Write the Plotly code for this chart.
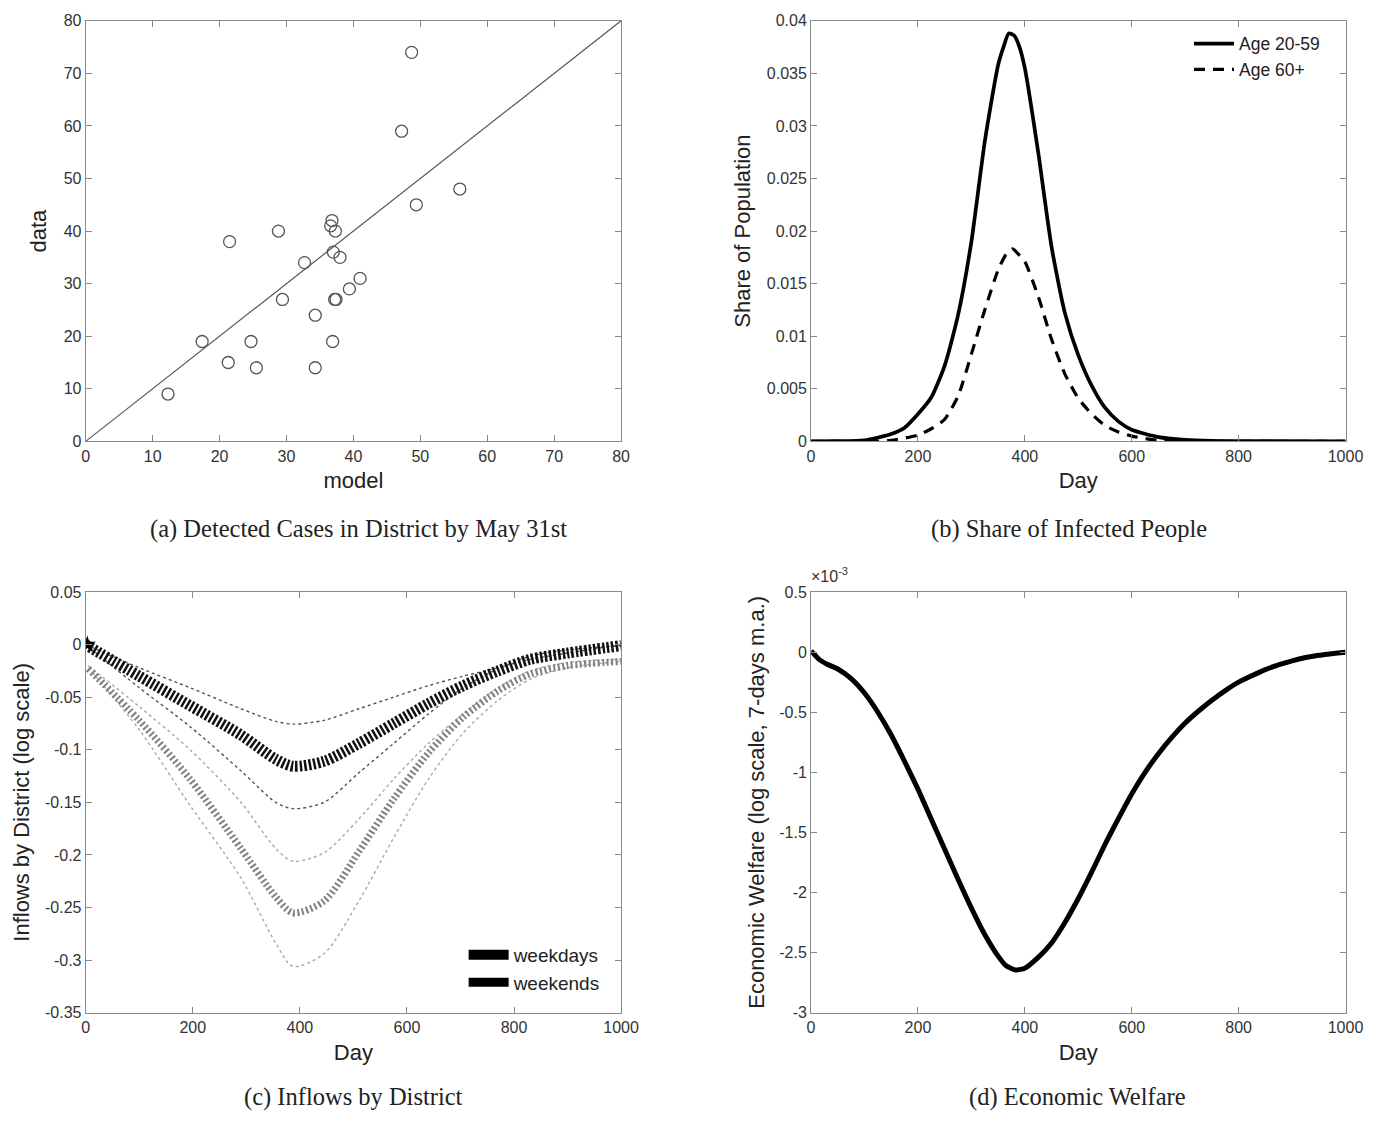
import plotly.graph_objects as go

# ---------------- Panel (a): detected cases ----------------
model_vals = [48.7, 47.2, 55.9, 49.4, 36.8, 36.6, 37.3, 28.8, 21.5, 37.0, 38.0, 32.7,
              41.0, 39.4, 37.2, 37.4, 29.4, 34.3, 17.4, 24.7, 36.9, 21.3, 25.5, 34.3, 12.3]
data_vals = [74, 59, 48, 45, 42, 41, 40, 40, 38, 36, 35, 34,
             31, 29, 27, 27, 27, 24, 19, 19, 19, 15, 14, 14, 9]
diag_x = [0, 80]
diag_y = [0, 80]

# ---------------- Panel (b): share of infected ----------------
days_b = [0, 50, 100, 150, 175, 200, 225, 250, 275, 300, 325, 350, 360, 370, 380, 390,
          400, 425, 450, 475, 500, 525, 550, 575, 600, 650, 700, 750, 800, 1000]
age_20_59 = [0.0, 0.00002, 0.0001, 0.0007, 0.0013, 0.0026, 0.0042, 0.0072, 0.0120, 0.0190,
             0.0285, 0.0358, 0.0375, 0.0388, 0.0386, 0.0375, 0.0355, 0.0275, 0.0185, 0.0122,
             0.0082, 0.0053, 0.0032, 0.0019, 0.0011, 0.0004, 0.00015, 0.00005, 0.00002, 0.0]
days_b2 = [0, 100, 150, 200, 225, 250, 275, 300, 325, 350, 365, 377, 390, 400, 425, 450,
           475, 500, 525, 550, 575, 600, 650, 700, 1000]
age_60_plus = [0.0, 0.0, 0.0001, 0.0006, 0.0012, 0.0021, 0.0043, 0.0083, 0.0125, 0.0163,
               0.0178, 0.0183, 0.0177, 0.0171, 0.0138, 0.0097, 0.0064, 0.0041, 0.0026,
               0.0015, 0.0009, 0.0005, 0.0001, 0.00003, 0.0]

# ---------------- Panel (c): inflows by district ----------------
days_c = [0, 100, 195, 290, 355, 387, 445, 510, 575, 640, 705, 770, 830, 900, 1000]
days_c2 = [5, 100, 195, 290, 355, 387, 445, 510, 575, 640, 705, 770, 830, 900, 1000]
inflow_1 = [0.0, -0.022, -0.041, -0.061, -0.073, -0.0756, -0.072, -0.061, -0.050, -0.039,
            -0.030, -0.022, -0.014, -0.008, 0.0]
inflow_2 = [0.0, -0.030, -0.058, -0.086, -0.109, -0.1156, -0.111, -0.094, -0.075, -0.056,
            -0.039, -0.025, -0.014, -0.008, -0.001]
inflow_3 = [0.0, -0.041, -0.078, -0.120, -0.150, -0.156, -0.150, -0.122, -0.094, -0.066,
            -0.041, -0.023, -0.011, -0.005, -0.001]
inflow_4 = [-0.020, -0.059, -0.100, -0.150, -0.194, -0.206, -0.198, -0.166, -0.128, -0.094,
            -0.066, -0.041, -0.025, -0.017, -0.014]
inflow_5 = [-0.023, -0.072, -0.128, -0.194, -0.240, -0.255, -0.244, -0.197, -0.147, -0.103,
            -0.069, -0.044, -0.028, -0.020, -0.016]
inflow_6 = [-0.022, -0.081, -0.153, -0.222, -0.284, -0.306, -0.294, -0.244, -0.184, -0.128,
            -0.084, -0.053, -0.033, -0.022, -0.016]
start_x = [3]
start_y = [0.0]

# ---------------- Panel (d): economic welfare (x 1e-3) ----------------
days_d = [0, 15, 30, 50, 75, 100, 125, 150, 175, 200, 225, 250, 275, 300, 325, 350, 365, 383,
          400, 425, 450, 475, 500, 525, 550, 575, 600, 625, 650, 675, 700, 725, 750, 775, 800,
          850, 900, 950, 1000]
welfare_e3 = [0.01, -0.06, -0.10, -0.14, -0.22, -0.34, -0.50, -0.69, -0.91, -1.14, -1.39, -1.64,
              -1.89, -2.13, -2.35, -2.53, -2.61, -2.645, -2.63, -2.54, -2.42, -2.25, -2.05, -1.83,
              -1.60, -1.385, -1.18, -1.00, -0.845, -0.71, -0.59, -0.49, -0.40, -0.32, -0.25,
              -0.145, -0.072, -0.026, 0.0]

# tick labels
ticks_a = [0, 10, 20, 30, 40, 50, 60, 70, 80]
ticks_day = [0, 200, 400, 600, 800, 1000]
ticks_b = [0, 0.005, 0.01, 0.015, 0.02, 0.025, 0.03, 0.035, 0.04]
ticklabels_b = ["0", "0.005", "0.01", "0.015", "0.02", "0.025", "0.03", "0.035", "0.04"]
ticks_c = [0.05, 0, -0.05, -0.1, -0.15, -0.2, -0.25, -0.3, -0.35]
ticklabels_c = ["0.05", "0", "-0.05", "-0.1", "-0.15", "-0.2", "-0.25", "-0.3", "-0.35"]
ticks_d = [0.5, 0, -0.5, -1, -1.5, -2, -2.5, -3]
ticklabels_d = ["0.5", "0", "-0.5", "-1", "-1.5", "-2", "-2.5", "-3"]

captions = ["(a) Detected Cases in District by May 31st", "(b) Share of Infected People",
            "(c) Inflows by District", "(d) Economic Welfare"]

W, H = 1395, 1128

fig = go.Figure()

# (a)
fig.add_trace(go.Scatter(x=diag_x, y=diag_y, mode="lines", line=dict(color="#555555", width=1.2),
                         xaxis="x", yaxis="y", showlegend=False))
fig.add_trace(go.Scatter(x=model_vals, y=data_vals, mode="markers",
                         marker=dict(symbol="circle-open", size=12, color="#555555", line=dict(width=1.3)),
                         xaxis="x", yaxis="y", showlegend=False))
# (b)
fig.add_trace(go.Scatter(x=days_b, y=age_20_59, mode="lines", name="Age 20-59",
                         line=dict(color="black", width=3.7, shape="spline", smoothing=0.6),
                         xaxis="x2", yaxis="y2", legend="legend"))
fig.add_trace(go.Scatter(x=days_b2, y=age_60_plus, mode="lines", name="Age 60+",
                         line=dict(color="black", width=3.2, dash="11px,8px", shape="spline", smoothing=0.6),
                         xaxis="x2", yaxis="y2", legend="legend"))
# (c)
fig.add_trace(go.Scatter(x=days_c2, y=inflow_6, mode="lines", line=dict(color="#a8a8a8", width=1.4, dash="dot", shape="spline", smoothing=0.8),
                         xaxis="x3", yaxis="y3", showlegend=False))
fig.add_trace(go.Scatter(x=days_c2, y=inflow_4, mode="lines", line=dict(color="#a8a8a8", width=1.4, dash="dot", shape="spline", smoothing=0.8),
                         xaxis="x3", yaxis="y3", showlegend=False))
fig.add_trace(go.Scatter(x=days_c2, y=inflow_5, mode="lines", line=dict(color="#808080", width=7, dash="2px,2.5px", shape="spline", smoothing=0.8),
                         xaxis="x3", yaxis="y3", showlegend=False))
fig.add_trace(go.Scatter(x=days_c, y=inflow_1, mode="lines", line=dict(color="#555555", width=1.4, dash="dot", shape="spline", smoothing=0.8),
                         xaxis="x3", yaxis="y3", showlegend=False))
fig.add_trace(go.Scatter(x=days_c, y=inflow_3, mode="lines", line=dict(color="#555555", width=1.4, dash="dot", shape="spline", smoothing=0.8),
                         xaxis="x3", yaxis="y3", showlegend=False))
fig.add_trace(go.Scatter(x=days_c, y=inflow_2, mode="lines", line=dict(color="#111111", width=11, dash="2.5px,2px", shape="spline", smoothing=0.8),
                         xaxis="x3", yaxis="y3", showlegend=False))
fig.add_trace(go.Scatter(x=start_x, y=start_y, mode="markers", marker=dict(symbol="star", size=13, color="black"),
                         xaxis="x3", yaxis="y3", showlegend=False))
fig.add_trace(go.Scatter(x=[None], y=[None], mode="lines", name="weekdays",
                         line=dict(color="black", width=14), xaxis="x3", yaxis="y3", legend="legend2"))
fig.add_trace(go.Scatter(x=[None], y=[None], mode="lines", name="weekends",
                         line=dict(color="black", width=9), xaxis="x3", yaxis="y3", legend="legend2"))
# (d)
fig.add_trace(go.Scatter(x=days_d, y=welfare_e3, mode="lines",
                         line=dict(color="black", width=5, shape="spline", smoothing=0.5),
                         xaxis="x4", yaxis="y4", showlegend=False))

def px_x(a, b):
    return [a / W, b / W]

def px_y(top, bottom):
    return [1 - bottom / H, 1 - top / H]

tickfont = dict(family="Liberation Sans, Arial, sans-serif", size=16, color="#333333")
titlefont = dict(family="Liberation Sans, Arial, sans-serif", size=22, color="#222222")

def ax(domain, rng, tickvals, ticktext=None, title=None, anchor=None, standoff=8):
    d = dict(domain=domain, range=rng, showline=True, linecolor="#8a8a8a", linewidth=1,
             mirror="ticks", ticks="inside", ticklen=6, tickcolor="#8a8a8a", showgrid=False,
             zeroline=False, tickvals=tickvals, tickfont=tickfont, anchor=anchor,
             title=dict(text=title, font=titlefont, standoff=standoff))
    if ticktext is not None:
        d["ticktext"] = ticktext
    return d

xa = px_x(83, 627)
xb = px_x(820, 1363)
ytop = px_y(13, 440)
ybot = px_y(593, 1020)

fig.update_layout(
    width=W, height=H, margin=dict(l=0, r=0, t=0, b=0),
    paper_bgcolor="white", plot_bgcolor="white",
    xaxis=ax(xa, [0, 80], ticks_a, title="model", anchor="y", standoff=9),
    yaxis=ax(ytop, [0, 80], ticks_a, title="data", anchor="x", standoff=10),
    xaxis2=ax(xb, [0, 1000], ticks_day, title="Day", anchor="y2", standoff=9),
    yaxis2=ax(ytop, [0, 0.04], ticks_b, ticklabels_b, title="Share of Population", anchor="x2", standoff=10),
    xaxis3=ax(xa, [0, 1000], ticks_day, title="Day", anchor="y3", standoff=9),
    yaxis3=ax(ybot, [-0.35, 0.05], ticks_c, ticklabels_c, title="Inflows by District (log scale)", anchor="x3", standoff=9),
    xaxis4=ax(xb, [0, 1000], ticks_day, title="Day", anchor="y4", standoff=9),
    yaxis4=ax(ybot, [-3, 0.5], ticks_d, ticklabels_d, title="Economic Welfare (log scale, 7-days m.a.)", anchor="x4", standoff=8),
    legend=dict(x=1204 / W, y=1 - 18 / H, xanchor="left", yanchor="top", bgcolor="rgba(0,0,0,0)",
                font=dict(family="Liberation Sans, Arial, sans-serif", size=17.5, color="#222222"),
                itemwidth=40, tracegroupgap=0),
    legend2=dict(x=467 / W, y=1 - 942 / H, xanchor="left", yanchor="top", bgcolor="rgba(0,0,0,0)",
                 font=dict(family="Liberation Sans, Arial, sans-serif", size=19, color="#222222"),
                 itemwidth=40, tracegroupgap=0),
)

cap_pos = [(360, 529), (1082, 529), (355, 1106), (1091, 1106)]
for text, (cx, cy) in zip(captions, cap_pos):
    fig.add_annotation(text=text, x=cx / W, y=1 - cy / H, xref="paper", yref="paper",
                       showarrow=False, xanchor="center", yanchor="middle",
                       font=dict(family="Liberation Serif, DejaVu Serif, serif", size=24.5, color="#222222"))

fig.add_annotation(text="×10<sup>-3</sup>", x=818 / W, y=1 - 588 / H, xref="paper", yref="paper",
                   showarrow=False, xanchor="left", yanchor="bottom",
                   font=dict(family="Liberation Sans, Arial, sans-serif", size=16, color="#333333"))

fig.write_html("out.html")
